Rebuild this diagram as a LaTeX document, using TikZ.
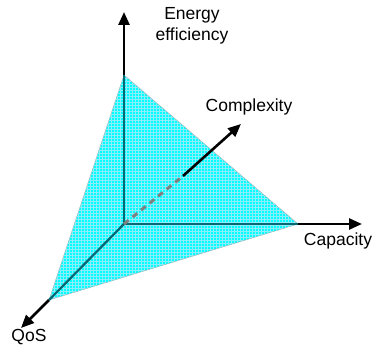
\documentclass[tikz,border=0pt]{standalone}
\usepackage{fontspec}
\setmainfont{Liberation Sans}
\usetikzlibrary{arrows.meta}
\definecolor{fillc}{RGB}{0,255,255}
\definecolor{gridc}{RGB}{140,238,250}
\definecolor{inax}{RGB}{0,105,115}
\tikzset{
  axis/.style={line width=2.6pt, -{Triangle[length=13pt,width=11pt]}},
  inaxis/.style={line width=2.2pt, inax},
  lbl/.style={font=\fontsize{17.5}{21}\selectfont, inner sep=0pt, align=center},
}
\begin{document}
\begin{tikzpicture}[x=1pt,y=-1pt]
\useasboundingbox (0,0) rectangle (374,352);
\coordinate (O) at (124,224);
\coordinate (E) at (124,75);
\coordinate (C) at (298,224);
\coordinate (Q) at (49,300);
\coordinate (X) at (183,176);
\coordinate (Etip) at (124,12);
\coordinate (Ctip) at (362,224);
\coordinate (Qtip) at (21,328);
\coordinate (Xtip) at (241,124);
% triangle
\fill[fillc] (E) -- (C) -- (Q) -- cycle;
\begin{scope}
\clip (E) -- (C) -- (Q) -- cycle;
\draw[gridc, line width=0.4pt] (40,60) grid[step=3pt] (300,310);
\end{scope}
\draw[gray!60, line width=0.4pt] (E) -- (C) -- (Q) -- cycle;
% inner axes
\draw[inaxis] (O) -- (E);
\draw[inaxis] (O) -- (C);
\draw[inaxis] (O) -- (Q);
\draw[gray, line width=3pt, dash pattern=on 6pt off 5pt] (O) -- (X);
% outer axes
\draw[axis] (E) -- (Etip);
\draw[axis] (C) -- (Ctip);
\draw[axis] (Q) -- (Qtip);
\draw[axis] (X) -- (Xtip);
% labels
\node[lbl] (le) at (192,26) {Energy\\efficiency};
\node[lbl] (lx) at (249,107) {Complexity};
\node[lbl] (lc) at (338,241) {Capacity};
\node[lbl] (lq) at (29,337) {QoS};
\end{tikzpicture}
\end{document}
